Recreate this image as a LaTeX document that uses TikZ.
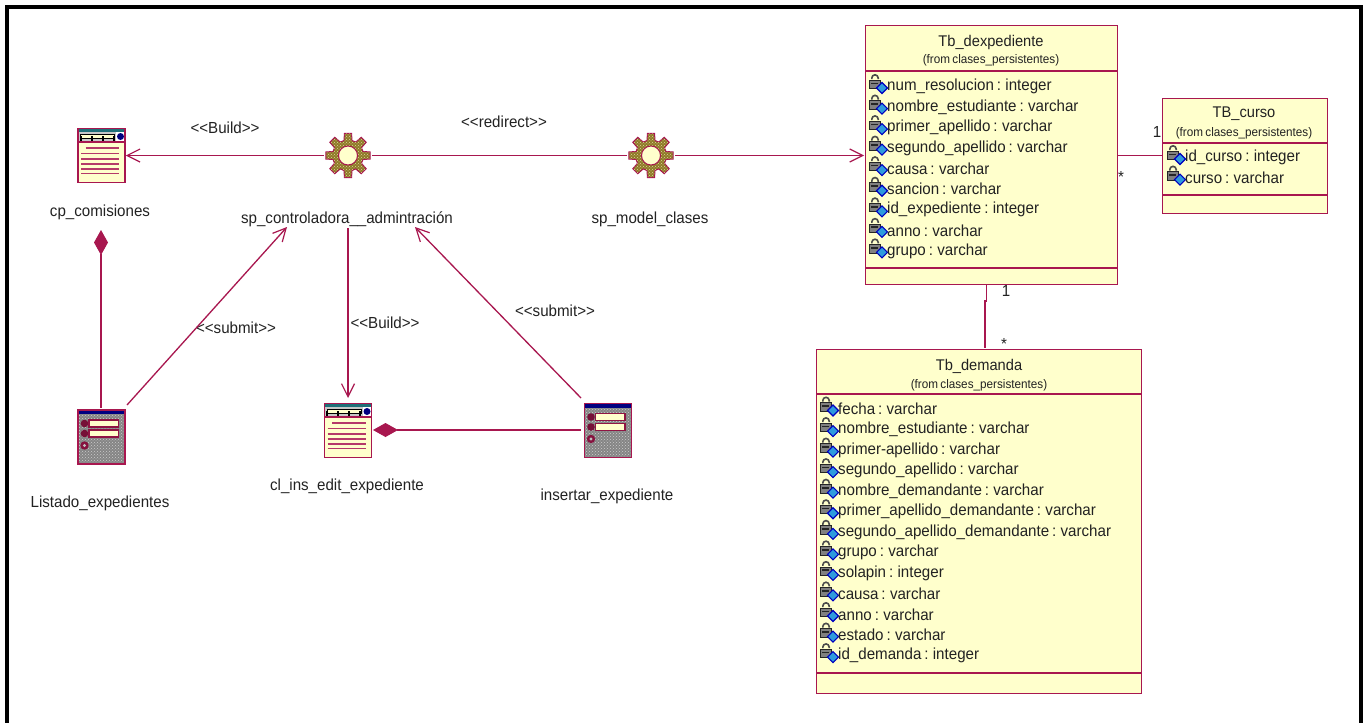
\documentclass[tikz,border=0pt]{standalone}
\usepackage{fontspec}
\setmainfont[FakeStretch=0.945,WordSpace=0.7]{Liberation Sans}
\usetikzlibrary{arrows.meta,patterns,shapes.geometric}
\definecolor{rose}{HTML}{A8174F}
\definecolor{cream}{HTML}{FFFFCC}
\definecolor{ink}{HTML}{222222}
\definecolor{gearfill}{HTML}{8F7A28}
\definecolor{barblue}{HTML}{000080}
\definecolor{barteal}{HTML}{1F6F78}
\tikzset{
  lbl/.style={font=\fontsize{16}{18}\selectfont,text=ink,inner sep=0pt,yshift=-1.5pt},
  small/.style={font=\fontsize{12.4}{14}\selectfont,text=ink,inner sep=0pt,yshift=-1.5pt},
  title/.style={font=\fontsize{15.5}{17}\selectfont,text=ink,inner sep=0pt,yshift=-1pt},
  attr/.style={lbl,anchor=west},
  classbox/.style={draw=rose,fill=cream,line width=1.3pt,inner sep=0pt,anchor=north west},
  sep/.style={draw=rose,line width=1.3pt},
  conn/.style={draw=rose,line width=1.3pt},
  opn/.style={conn,-{Straight Barb[length=13pt,width=13pt,line width=1.2pt]}},
  comp/.style={conn,{Diamond[length=25pt,width=14pt,fill=rose]}-},
  iconbox/.style={draw=rose,line width=1.5pt,minimum width=47pt,minimum height=54pt,inner sep=0pt},
  gearnode/.style={circle,minimum size=48pt,inner sep=0pt},
  lock/.pic={
    \draw[black!70,line width=1.6pt] (-3.2,-5) -- (-3.2,-6) arc[start angle=180,end angle=360,radius=3.2] -- (3.2,-5);
    \fill[black!50,draw=black!85,line width=.7pt] (-5.7,-4) rectangle (5.7,4.5);
    \fill[black!85] (-4,-1.5) rectangle (3,0.2);
    \fill[cyan!75!blue!85,draw=blue!75!black,line width=1.1pt] (7,-1.5) -- (12.5,4) -- (7,9.5) -- (1.5,4) -- cycle;
  },
  gearpic/.pic={
    \fill[gearfill,draw=rose,line width=1pt,postaction={pattern=crosshatch dots,pattern color=cream!70!gearfill}] (-15:15.5)
      \foreach \a in {0,45,...,315} {
        -- ({\a-9}:22.5) -- ({\a+9}:22.5) -- ({\a+15}:15.5) -- ({\a+30}:15.5)
      } -- cycle;
    \fill[cream,draw=rose,line width=1pt] (0,0) circle (9.5);
  },
  pagepic/.pic={
    \fill[cream] (-23.5,-27) rectangle (23.5,27);
    \fill[barteal] (-23.5,-27) rectangle (23.5,-24);
    \fill[black!22] (-23.5,-24) rectangle (23.5,-14);
    \fill[cream,draw=black,line width=.8pt] (-21,-21) rectangle (13,-17);
    \foreach \x in {-21,-10,1,12} \fill[black] (\x-1,-20) rectangle (\x+1,-14.5);
    \fill[white] (14.5,-24) rectangle (23.5,-14);
    \fill[barblue] (19,-19) circle (3.5);
    \draw[rose,line width=1.4pt] (-23.5,-13.5) -- (23.5,-13.5);
    \foreach \y/\s in {-7.5/-16,-2/-20.5,3.5/-20.5,8.5/-20.5,13.5/-20.5,18/-20.5}
      \draw[rose!85,line width=1.5pt] (\s,\y) -- (17.5,\y);
  },
  formpic/.pic={
    \fill[black!48] (-23.5,-27) rectangle (23.5,27);
    \fill[pattern=crosshatch dots,pattern color=white!80!black] (-23.5,-27) rectangle (23.5,27);
    \fill[barblue] (-23.5,-27) rectangle (23.5,-23);
    \foreach \y in {-13.5,-3.5} {
      \fill[rose!70!black] (-17,\y) circle (3.8);
      \fill[cream,draw=rose!85!black,line width=1.3pt] (-12.5,\y-3.5) rectangle (17,\y+3.5);
    }
    \fill[rose!80!black] (-17,8.5) circle (4.2);
    \fill[black!25] (-17,8.5) circle (1.6);
  }
}
\newcommand{\attrrows}[4]{% prefix, x, first y, list
  \foreach \t [count=\i from 0] in {#4} {
    \pgfmathsetmacro{\yy}{#3+20.55*\i}
    \pic at (#2-12,\yy-1) {lock};
    \node[attr,name=#1\i] at (#2,\yy) {\t};
  }
}
\begin{document}
\begin{tikzpicture}[x=1pt,y=-1pt]
\useasboundingbox (0,0) rectangle (1369,723);
\fill[white] (0,0) rectangle (1369,723);
\draw[black,line width=4.4pt,line cap=butt,line join=miter] (7,723) -- (7,7) -- (1361,7) -- (1361,723);

% class boxes
\node[classbox,minimum width=252pt,minimum height=259pt] (dexp) at (865,25) {};
\draw[sep] (865,71) -- (1117,71) (865,268) -- (1117,268);
\node[title] (dexpT) at (991,41) {Tb\_dexpediente};
\node[small] (dexpF) at (991,59) {(from clases\_persistentes)};
\attrrows{da}{887}{85}{num\_resolucion : integer,nombre\_estudiante : varchar,primer\_apellido : varchar,segundo\_apellido : varchar,causa : varchar,sancion : varchar,id\_expediente : integer,anno : varchar,grupo : varchar}

\node[classbox,minimum width=165pt,minimum height=115pt] (curso) at (1162,98) {};
\draw[sep] (1162,143) -- (1327,143) (1162,195) -- (1327,195);
\node[title] (cursoT) at (1244,113) {TB\_curso};
\node[small] (cursoF) at (1244,132) {(from clases\_persistentes)};
\attrrows{ca}{1185}{156}{id\_curso : integer,curso : varchar}

\node[classbox,minimum width=325pt,minimum height=344pt] (dem) at (816,349) {};
\draw[sep] (816,394) -- (1141,394) (816,673) -- (1141,673);
\node[title] (demT) at (979,365) {Tb\_demanda};
\node[small] (demF) at (979,384) {(from clases\_persistentes)};
\attrrows{dm}{838}{407.5}{fecha : varchar,nombre\_estudiante : varchar,primer-apellido : varchar,segundo\_apellido : varchar,nombre\_demandante : varchar,primer\_apellido\_demandante : varchar,segundo\_apellido\_demandante : varchar,grupo : varchar,solapin : integer,causa : varchar,anno : varchar,estado : varchar,id\_demanda : integer}

% icons
\pic at (101.5,155.5) {pagepic};
\node[iconbox] (cp) at (101.5,155.5) {};
\pic at (348,430.5) {pagepic};
\node[iconbox] (clins) at (348,430.5) {};
\pic at (101.5,437) {formpic};
\node[iconbox] (listado) at (101.5,437) {};
\pic at (608,430.5) {formpic};
\node[iconbox] (insertar) at (608,430.5) {};
\pic at (348,155.5) {gearpic};
\node[gearnode] (ctrl) at (348,155.5) {};
\pic at (651,155.5) {gearpic};
\node[gearnode] (model) at (651,155.5) {};

% labels
\node[lbl] (cpL) at (100,211) {cp\_comisiones};
\node[lbl] (ctrlL) at (347,218) {sp\_controladora\_\_admintración};
\node[lbl] (modelL) at (650,218) {sp\_model\_clases};
\node[lbl] (listadoL) at (100,502) {Listado\_expedientes};
\node[lbl] (clinsL) at (347,485) {cl\_ins\_edit\_expediente};
\node[lbl] (insertarL) at (607,495) {insertar\_expediente};

\node[lbl] (b1) at (225,126) {<{}<Build>{}>};
\node[lbl] (r1) at (504,120) {<{}<redirect>{}>};
\node[lbl] (s1) at (236,326) {<{}<submit>{}>};
\node[lbl] (b2) at (385,321) {<{}<Build>{}>};
\node[lbl] (s2) at (555,309) {<{}<submit>{}>};

% free connector ends
\coordinate (ctrlTop) at (348,228);
\coordinate (clinsTop) at (348,398);
\coordinate (listTop) at (101,408);
\coordinate (cpBot) at (101,230);
\coordinate (listFrom) at (127,405);
\coordinate (ctrlIn1) at (287,227);
\coordinate (insFrom) at (581,398);
\coordinate (ctrlIn2) at (415,227);
\coordinate (insL) at (581,430);
\coordinate (clinsR) at (373,430);
\coordinate (dexpR) at (1117,155.5);
\coordinate (cursoL) at (1162,155.5);
\coordinate (dexpE) at (864,155.5);
\coordinate (dexpB) at (986.5,284);
\coordinate (jog1) at (986.5,301);
\coordinate (jog2) at (985,301);
\coordinate (demT1) at (985,348);

% connectors
\draw[opn] (ctrl) -- (cp.east);
\draw[conn] (ctrl) -- (model);
\draw[opn] (model) -- (dexpE);
\draw[opn] (ctrlTop) -- (clinsTop);
\draw[comp] (cpBot) -- (listTop);
\draw[opn] (listFrom) -- (ctrlIn1);
\draw[opn] (insFrom) -- (ctrlIn2);
\draw[comp] (clinsR) -- (insL);
\draw[conn] (dexpR) -- (cursoL);
\draw[conn] (dexpB) -- (jog1) -- (jog2) -- (demT1);

\node[lbl] (m1) at (1157,130) {1};
\node[lbl] (m2) at (1121,175) {*};
\node[lbl] (m3) at (1006,289) {1};
\node[lbl] (m4) at (1004,342) {*};
\end{tikzpicture}
\end{document}
